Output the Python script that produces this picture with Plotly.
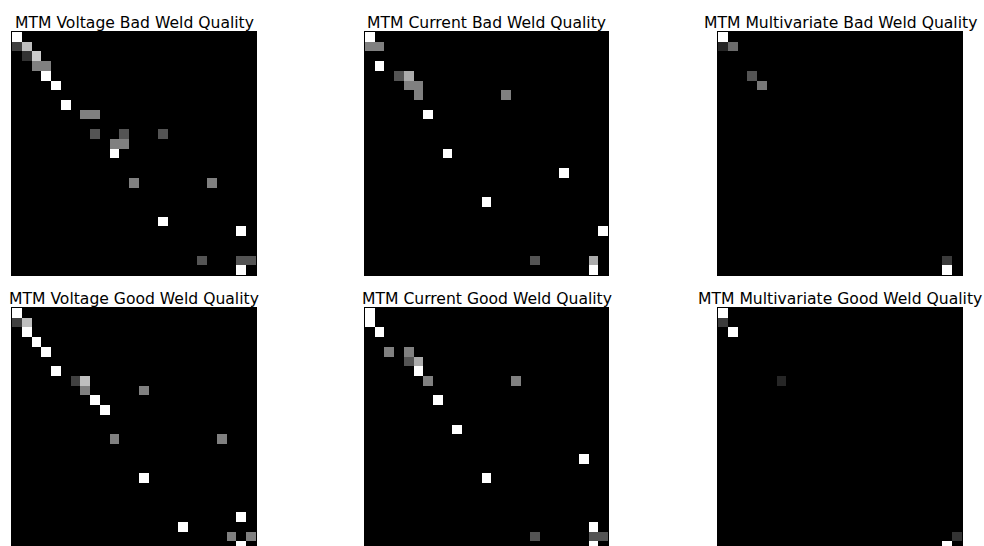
import numpy as np
import plotly.graph_objects as go

N = 25  # number of states in each Markov transition matrix

titles = [
    "MTM Voltage Bad Weld Quality",
    "MTM Current Bad Weld Quality",
    "MTM Multivariate Bad Weld Quality",
    "MTM Voltage Good Weld Quality",
    "MTM Current Good Weld Quality",
    "MTM Multivariate Good Weld Quality",
]

# Non-zero transition probabilities: (from_state, to_state, probability)
voltage_bad = [
    (0, 0, 1.0), (1, 0, 0.25), (1, 1, 0.75), (2, 1, 0.2), (2, 2, 0.8),
    (3, 2, 0.5), (3, 3, 0.5), (4, 3, 1.0), (5, 4, 1.0), (7, 5, 1.0),
    (8, 7, 0.5), (8, 8, 0.5), (10, 8, 0.33), (10, 11, 0.33), (10, 15, 0.33),
    (11, 10, 0.5), (11, 11, 0.5), (12, 10, 1.0), (15, 12, 0.5), (15, 20, 0.5),
    (19, 15, 1.0), (20, 23, 1.0), (23, 19, 0.33), (23, 23, 0.33), (23, 24, 0.33),
    (24, 23, 1.0),
]
current_bad = [
    (0, 0, 1.0), (1, 0, 0.5), (1, 1, 0.5), (3, 1, 1.0), (4, 3, 0.33), (4, 4, 0.67),
    (5, 4, 0.5), (5, 5, 0.5), (6, 5, 0.5), (6, 14, 0.5), (8, 6, 1.0),
    (12, 8, 1.0), (14, 20, 1.0), (17, 12, 1.0), (20, 24, 1.0),
    (23, 17, 0.33), (23, 23, 0.67), (24, 23, 1.0),
]
multi_bad = [
    (0, 0, 1.0), (1, 0, 0.15), (1, 1, 0.42), (4, 3, 0.33), (5, 4, 0.47),
    (23, 23, 0.23), (24, 23, 1.0),
]
voltage_good = [
    (0, 0, 1.0), (1, 0, 0.25), (1, 1, 0.75), (2, 1, 1.0), (3, 2, 1.0), (4, 3, 1.0),
    (6, 4, 1.0), (7, 6, 0.25), (7, 7, 0.75), (8, 7, 0.5), (8, 13, 0.5),
    (9, 8, 1.0), (10, 9, 1.0), (13, 10, 0.5), (13, 21, 0.5), (17, 13, 1.0),
    (21, 23, 1.0), (22, 17, 1.0), (23, 22, 0.5), (23, 24, 0.5), (24, 23, 1.0),
]
current_good = [
    (0, 0, 1.0), (1, 0, 1.0), (2, 1, 1.0), (4, 2, 0.5), (4, 4, 0.5),
    (5, 4, 0.33), (5, 5, 0.67), (6, 5, 1.0), (7, 6, 0.5), (7, 15, 0.5),
    (9, 7, 1.0), (12, 9, 1.0), (15, 22, 1.0), (17, 12, 1.0), (22, 23, 1.0),
    (23, 17, 0.33), (23, 23, 0.33), (23, 24, 0.33), (24, 23, 1.0),
]
multi_good = [
    (0, 0, 1.0), (1, 0, 0.23), (2, 1, 1.0), (7, 6, 0.15),
    (23, 24, 0.2), (24, 23, 1.0),
]

panels = [voltage_bad, current_bad, multi_bad, voltage_good, current_good, multi_good]


def to_matrix(entries):
    m = np.zeros((N, N))
    for r, c, v in entries:
        m[r, c] = v
    return m


W, H = 984, 546
x_px = [(12, 256), (365, 608), (718, 962)]
y_px = [(32, 275), (308, 546)]

fig = go.Figure()
annotations = []
for i, (entries, title) in enumerate(zip(panels, titles)):
    row, col = divmod(i, 3)
    m = to_matrix(entries)
    ax = "" if i == 0 else str(i + 1)
    fig.add_trace(go.Heatmap(
        z=m, x=list(range(N)), y=list(range(N)),
        colorscale=[[0, "#000000"], [1, "#ffffff"]],
        zmin=0, zmax=1, showscale=False,
        xaxis="x" + ax, yaxis="y" + ax,
    ))
    x0, x1 = x_px[col]
    y0, y1 = y_px[row]
    dom_x = [x0 / W, x1 / W]
    dom_y = [1 - y1 / H, 1 - y0 / H]
    # bottom row is cropped by the figure edge in the reference
    yr = [N - 0.5, -0.5] if row == 0 else [N - 1.0, -0.5]
    common = dict(showticklabels=False, showgrid=False, zeroline=False,
                  ticks="", fixedrange=True, showline=True,
                  linecolor="#000000", linewidth=1)
    if row == 0:
        fig.layout["xaxis" + ax] = dict(domain=dom_x, range=[-0.5, N - 0.5],
                                        mirror=True, anchor="y" + ax, **common)
    else:
        fig.layout["xaxis" + ax] = dict(domain=dom_x, range=[-0.5, N - 0.5],
                                        side="top", mirror=False,
                                        anchor="y" + ax, **common)
    fig.layout["yaxis" + ax] = dict(domain=dom_y, range=yr, mirror=True,
                                    anchor="x" + ax, **common)
    annotations.append(dict(
        text=title, xref="paper", yref="paper",
        x=(x0 + x1) / 2 / W, y=1 - (y0 + 2) / H,
        xanchor="center", yanchor="bottom", showarrow=False,
        font=dict(family="DejaVu Sans", size=15.6, color="#000000"),
    ))

fig.update_layout(
    width=W, height=H,
    margin=dict(l=0, r=0, t=0, b=0),
    paper_bgcolor="white", plot_bgcolor="black",
    annotations=annotations,
    showlegend=False,
)

fig.write_html("out.html", config={"displayModeBar": False},
               post_script="document.body.style.margin='0';")
